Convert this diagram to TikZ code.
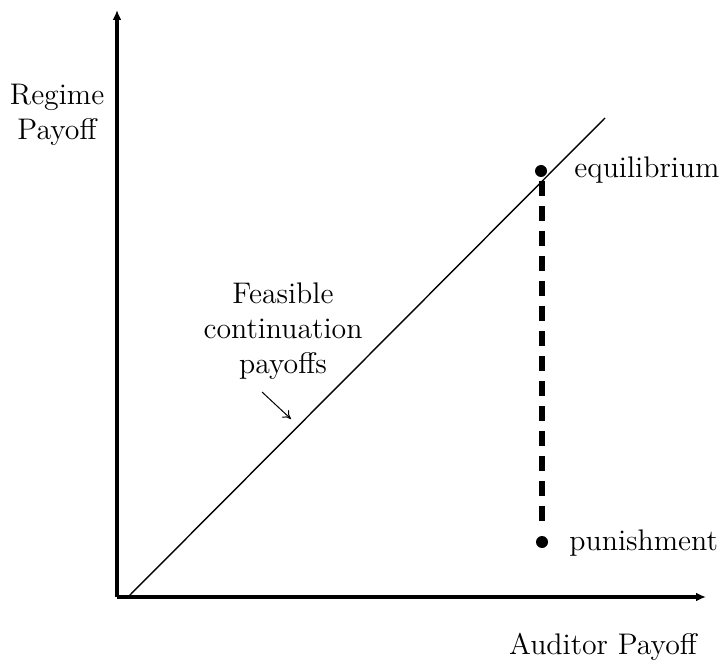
\documentclass[tikz,border=0pt]{standalone}
\usetikzlibrary{arrows.meta}
\begin{document}
\begin{tikzpicture}[x=0.5pt,y=-0.5pt,
  axis/.style={line width=2pt,-{Latex[length=5pt,width=4.5pt]}},
  lbl/.style={font=\fontsize{14.9}{17.5}\selectfont,inner sep=0pt},
  dot/.style={circle,fill=black,inner sep=0pt,minimum size=6pt},
  thinarrow/.style={line width=0.5pt,-{To[length=4pt,width=5pt]}}]
\useasboundingbox (0,0) rectangle (723,668);
\coordinate (O) at (117,597);
\coordinate (ytop) at (117,10);
\coordinate (xend) at (706,597);
\draw[axis] (O) -- (ytop);
\draw[axis] (O) -- (xend);
\coordinate (d0) at (128,597);
\coordinate (d1) at (605,118);
\draw[line width=0.7pt] (d0) -- (d1);
\node[dot] (eq) at (541,171) {};
\node[dot] (pun) at (542,542) {};
\coordinate (dtop) at (542,181);
\coordinate (dbot) at (542,531);
\draw[line width=2.8pt,dash pattern=on 7.5pt off 5pt] (dtop) -- (dbot);
\node[lbl,anchor=west] (eqlbl) at (574,170) {equilibrium};
\node[lbl,anchor=west] (punlbl) at (569,543) {punishment};
\node[lbl,align=center] (ylbl) at (57,115) {Regime\\Payoff};
\node[lbl] (xlbl) at (603,647) {Auditor Payoff};
\node[lbl,align=center] (feas) at (283,331) {Feasible\\continuation\\payoffs};
\coordinate (a0) at (262,392);
\coordinate (a1) at (291,419);
\draw[thinarrow] (a0) -- (a1);
\end{tikzpicture}
\end{document}
